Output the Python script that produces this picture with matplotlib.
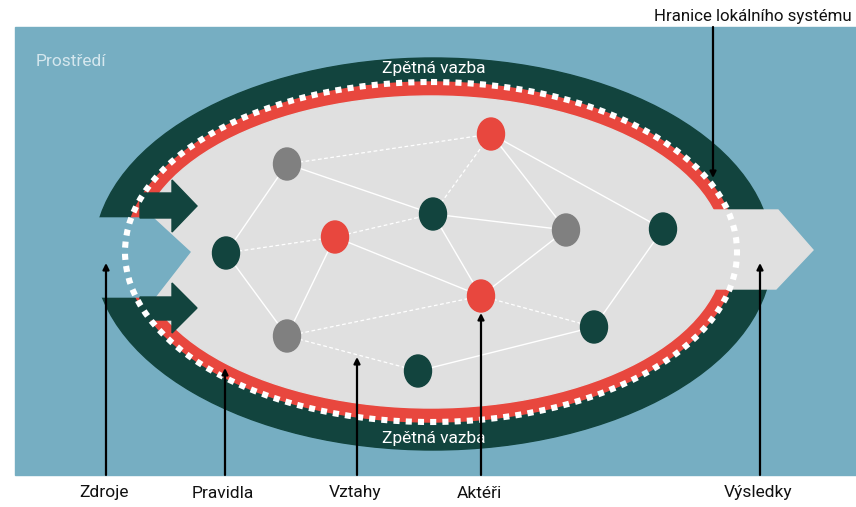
import matplotlib
matplotlib.use("Agg")
import matplotlib.pyplot as plt
from matplotlib.patches import Ellipse, Polygon, Rectangle

# colours
BLUE = "#76aec2"
DARK = "#12443e"
RED = "#e8473e"
LIGHT = "#e0e0e0"
GREY = "#808080"

# actors (nodes) in the local system, pixel coords of the picture
node_names = ["G1", "D1", "R1", "D2", "R2", "G2", "D3", "G3", "D4", "R3", "D5"]
node_x = [287, 226, 335, 433, 491, 566, 663, 287, 418, 481, 594]
node_y = [164, 253, 237, 214, 134, 230, 229, 336, 371, 296, 327]
node_kind = ["grey", "dark", "red", "dark", "red", "grey", "dark", "grey", "dark", "red", "dark"]

# relations between actors
solid_edges = [("G1", "D1"), ("G1", "D2"), ("D1", "G3"), ("R1", "G3"), ("R1", "R3"),
               ("D2", "R3"), ("D2", "G2"), ("R2", "G2"), ("R2", "D3"), ("G2", "R3"),
               ("D3", "D5"), ("D4", "D5")]
dashed_edges = [("G1", "R2"), ("D1", "R1"), ("R1", "D2"), ("R2", "D2"),
                ("R3", "D5"), ("G3", "R3"), ("G3", "D4")]

# bottom labels with the point their arrow touches
labels = ["Zdroje", "Pravidla", "Vztahy", "Aktéři", "Výsledky"]
label_x = [106, 225, 357, 481, 760]
label_tip = [263, 368, 357, 313, 263]

kind_color = {"grey": GREY, "dark": DARK, "red": RED}
pos = {n: (x, y) for n, x, y in zip(node_names, node_x, node_y)}

FONT = ["Liberation Sans Narrow", "Roboto", "DejaVu Sans"]

fig = plt.figure(figsize=(8.56, 5.07), dpi=100)
ax = fig.add_axes([0, 0, 1, 1])
ax.set_xlim(0, 856)
ax.set_ylim(507, 0)
ax.axis("off")

# environment
ax.add_patch(Rectangle((15, 27), 841, 448, color=BLUE, zorder=0))

# clip regions: ring is cut on both sides (inputs left, outputs right)
def clips():
    top = Polygon([(0, 0), (856, 0), (856, 210), (433, 210), (433, 218), (0, 218)],
                  transform=ax.transData)
    bot = Polygon([(0, 507), (856, 507), (856, 289), (433, 289), (433, 297), (0, 297)],
                  transform=ax.transData)
    return top, bot

for clip in clips():
    e = Ellipse((433, 254), 678, 392, color=DARK, zorder=1)
    ax.add_patch(e)
    e.set_clip_path(clip)
for clip in clips():
    e = Ellipse((431, 252), 612, 340, color=RED, zorder=2)
    ax.add_patch(e)
    e.set_clip_path(clip)

# system interior
ax.add_patch(Ellipse((431, 252), 586, 312, color=LIGHT, zorder=3))
ax.add_patch(Polygon([(700, 210), (778, 210), (813, 250), (776, 289), (700, 289)],
                     color=LIGHT, zorder=3))
ax.add_patch(Polygon([(95, 218), (153, 218), (190, 252), (155, 297), (95, 297)],
                     color=BLUE, zorder=3))

# input arrows
ax.add_patch(Polygon([(140, 193), (172, 193), (172, 180), (197, 206), (172, 232),
                      (172, 218), (140, 218)], color=DARK, zorder=4))
ax.add_patch(Polygon([(140, 297), (172, 297), (172, 283), (197, 308), (172, 333),
                      (172, 320), (140, 320)], color=DARK, zorder=4))

# feedback (dotted)
ax.add_patch(Ellipse((431, 252), 612, 340, fill=False, edgecolor="white", lw=4.4,
                     linestyle=(0, (1, 1)), zorder=5))

# edges
for a, b in solid_edges:
    ax.plot([pos[a][0], pos[b][0]], [pos[a][1], pos[b][1]], color="white", lw=1.0, zorder=6)
for a, b in dashed_edges:
    ax.plot([pos[a][0], pos[b][0]], [pos[a][1], pos[b][1]], color="white", lw=0.9,
            linestyle=(0, (3, 2)), zorder=6)

for n, x, y, k in zip(node_names, node_x, node_y, node_kind):
    ax.add_patch(Ellipse((x, y), 27, 32, color=kind_color[k], zorder=7))

# texts
ax.text(36, 62, "Prostředí", color="#d5e7ee", fontsize=12.5, family=FONT, va="center", zorder=8)
ax.text(434, 68, "Zpětná vazba", color="white", fontsize=12.5, family=FONT,
        ha="center", va="center", zorder=8)
ax.text(434, 438, "Zpětná vazba", color="white", fontsize=12.5, family=FONT,
        ha="center", va="center", zorder=8)

arrow = dict(arrowstyle="-|>", lw=1.6, color="black", mutation_scale=9, shrinkA=0, shrinkB=0)
for lab, x, tip in zip(labels, label_x, label_tip):
    ax.annotate("", xy=(x, tip), xytext=(x, 475), arrowprops=arrow, zorder=9)
    ax.text(x - 2, 493, lab, fontsize=12.5, family=FONT, ha="center", va="center", color="#111111")

ax.annotate("", xy=(713, 178), xytext=(713, 27), arrowprops=arrow, zorder=9)
ax.text(852, 17, "Hranice lokálního systému", fontsize=12.2, family=FONT,
        ha="right", va="center", color="#111111")

fig.savefig("out.png", dpi=100)
